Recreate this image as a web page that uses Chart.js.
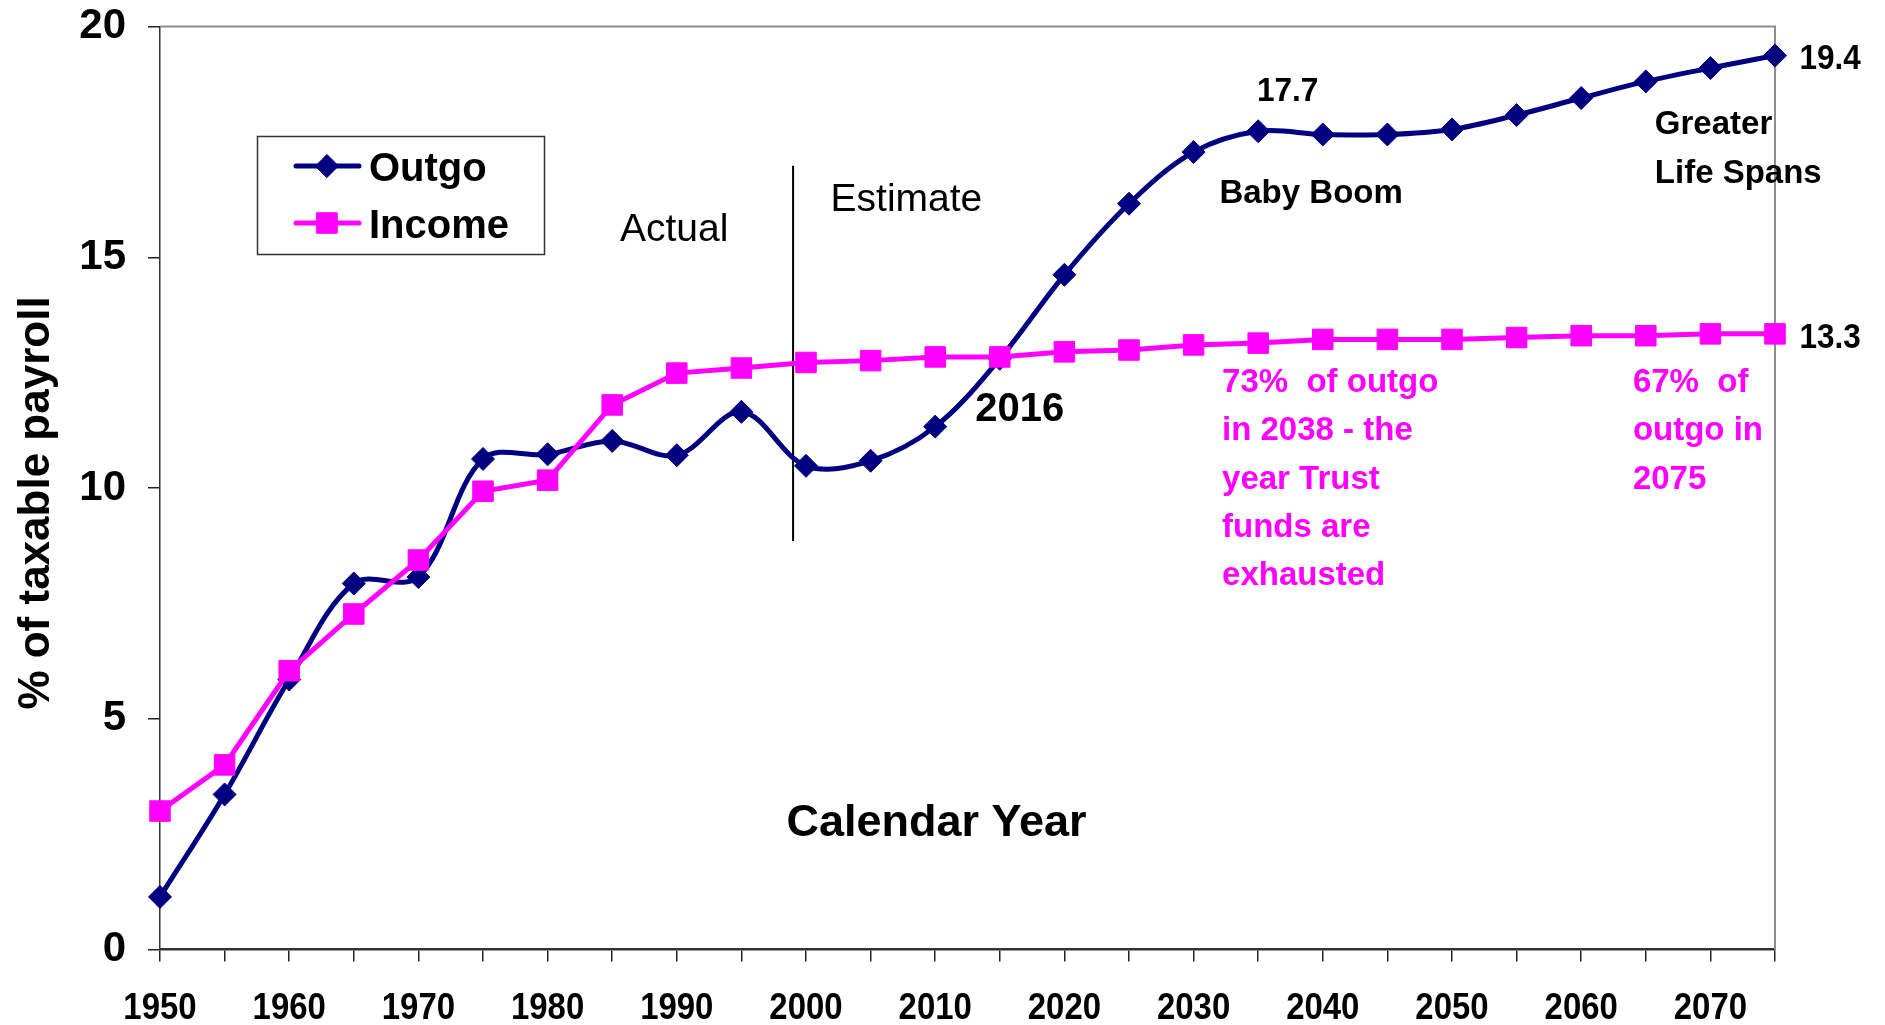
<!DOCTYPE html>
<html>
<head>
<meta charset="utf-8">
<script src="https://cdn.jsdelivr.net/npm/chart.js@4.4.0/dist/chart.umd.min.js"></script>
<style>
html,body{margin:0;padding:0;background:#fff;overflow:hidden}
#wrap{width:1885px;height:1025px}
</style>
</head>
<body>
<div id="wrap"><canvas id="c" width="1885" height="1025"></canvas></div>
<script>
// ---- data ----
const years  = [1950,1955,1960,1965,1970,1975,1980,1985,1990,1995,2000,2005,2010,2015,2020,2025,2030,2035,2040,2045,2050,2055,2060,2065,2070,2075];
const outgo  = [1.14,3.36,5.85,7.93,8.07,10.63,10.73,11.02,10.71,11.65,10.48,10.59,11.33,12.8,14.62,16.16,17.28,17.73,17.66,17.66,17.77,18.08,18.45,18.81,19.1,19.37];
const income = [3.0,4.0,6.04,7.27,8.44,9.93,10.17,11.8,12.49,12.6,12.72,12.76,12.84,12.84,12.95,12.99,13.1,13.14,13.22,13.22,13.22,13.26,13.3,13.3,13.34,13.34];
const seriesNames = ['Outgo','Income'];
const yTicks = [0,5,10,15,20];
const xLabelYears = [1950,1960,1970,1980,1990,2000,2010,2020,2030,2040,2050,2060,2070];
const dividerYear = 1999;
const sideTexts = {
  actual: 'Actual', estimate: 'Estimate', peak: '17.7', end1: '19.4', end2: '13.3',
  baby: 'Baby Boom', greater: ['Greater','Life Spans'], cross: '2016',
  note1: ['73%  of outgo','in 2038 - the','year Trust','funds are','exhausted'],
  note2: ['67%  of','outgo in','2075'],
  xTitle: 'Calendar Year', yTitle: '% of taxable payroll'
};

const NAVY = '#000080', MAG = '#FF00FF';
const SANS = '"Liberation Sans", Arial, sans-serif';

function narrowText(ctx, s, px, py, font, sx, align) {
  ctx.save();
  ctx.font = font;
  ctx.translate(px, py);
  ctx.scale(sx, 1);
  ctx.textAlign = align || 'left';
  ctx.fillText(s, 0, 0);
  ctx.restore();
}

const annot = {
  id: 'annot',
  beforeDatasetsDraw(chart) {
    const {ctx, chartArea: a, scales: {x, y}} = chart;
    ctx.save();
    ctx.strokeStyle = '#8c8c8c'; ctx.lineWidth = 2;
    ctx.beginPath(); ctx.moveTo(a.left, a.top); ctx.lineTo(a.right, a.top); ctx.lineTo(a.right, a.bottom); ctx.stroke();
    ctx.strokeStyle = '#000'; ctx.lineWidth = 2;
    const dx = x.getPixelForValue(dividerYear);
    ctx.beginPath(); ctx.moveTo(dx, y.getPixelForValue(16.98)); ctx.lineTo(dx, y.getPixelForValue(8.85)); ctx.stroke();
    ctx.restore();
  },
  afterDatasetsDraw(chart) {
    const {ctx, scales: {x, y}} = chart;
    const X = v => x.getPixelForValue(v), Y = v => y.getPixelForValue(v);
    ctx.save();
    ctx.textBaseline = 'alphabetic';
    ctx.textAlign = 'left';
    ctx.fillStyle = '#000';
    // x tick labels (condensed, as in the original)
    x.ticks.forEach(tk => {
      if (xLabelYears.includes(tk.value)) narrowText(ctx, String(tk.value), X(tk.value), y.bottom + 69, '700 37px ' + SANS, 0.89, 'center');
    });
    const t = (s, yr, v, font, color, dy) => { ctx.font = font; ctx.fillStyle = color || '#000'; ctx.fillText(s, X(yr), Y(v) + (dy || 0)); };
    t(sideTexts.actual, 1985.6, 15.35, '400 39px ' + SANS);
    t(sideTexts.estimate, 2001.9, 16.0, '400 39px ' + SANS);
    ctx.fillStyle = '#000';
    narrowText(ctx, sideTexts.peak, X(2034.9), Y(18.38), '700 34px ' + SANS, 0.93);
    narrowText(ctx, sideTexts.end1, X(2076.9), Y(19.08), '700 35px ' + SANS, 0.9);
    narrowText(ctx, sideTexts.end2, X(2076.9), Y(13.03), '700 35px ' + SANS, 0.9);
    t(sideTexts.baby, 2032.0, 16.18, '700 33px ' + SANS);
    sideTexts.greater.forEach((s, i) => t(s, 2065.7, 17.67, '700 33px ' + SANS, '#000', i * 49));
    t(sideTexts.cross, 2013.1, 11.45, '700 40px ' + SANS);
    sideTexts.note1.forEach((s, i) => t(s, 2032.2, 12.08, '700 33px ' + SANS, MAG, i * 48.3));
    sideTexts.note2.forEach((s, i) => t(s, 2064.0, 12.08, '700 33px ' + SANS, MAG, i * 48.3));
    ctx.textAlign = 'center';
    t(sideTexts.xTitle, 2010.1, 2.46, '700 45px ' + SANS);
    // y title
    ctx.save();
    ctx.translate(37, 503);
    ctx.rotate(-Math.PI / 2);
    ctx.font = '700 44px ' + SANS; ctx.fillStyle = '#000'; ctx.textBaseline = 'middle'; ctx.textAlign = 'center';
    ctx.fillText(sideTexts.yTitle, 0, 0);
    ctx.restore();
    // legend
    ctx.strokeStyle = '#333'; ctx.lineWidth = 1.5;
    ctx.strokeRect(257.5, 136.5, 287, 118);
    chart.data.datasets.forEach((ds, i) => {
      const cy = 166 + i * 57;
      ctx.strokeStyle = ds.borderColor; ctx.lineWidth = 5; ctx.lineCap = 'round';
      ctx.beginPath(); ctx.moveTo(296, cy); ctx.lineTo(359, cy); ctx.stroke();
      ctx.fillStyle = ds.pointBackgroundColor; ctx.strokeStyle = ds.pointBorderColor; ctx.lineWidth = 1;
      Chart.helpers.drawPoint(ctx, {pointStyle: ds.pointStyle, radius: ds.pointRadius, borderWidth: 1}, 327, cy);
      ctx.font = '700 40px ' + SANS; ctx.fillStyle = '#000'; ctx.textAlign = 'left';
      ctx.fillText(ds.label, 369, cy + 15);
    });
    ctx.restore();
  }
};

const ctx = document.getElementById('c').getContext('2d');
new Chart(ctx, {
  type: 'line',
  data: {
    datasets: [
      { label: seriesNames[0], data: years.map((yr, i) => ({x: yr, y: outgo[i]})),
        borderColor: NAVY, backgroundColor: NAVY, borderWidth: 5, tension: 0.35,
        pointStyle: 'rectRot', pointRadius: 11.5, pointBackgroundColor: NAVY, pointBorderColor: NAVY, pointBorderWidth: 1,
        clip: false, order: 1 },
      { label: seriesNames[1], data: years.map((yr, i) => ({x: yr, y: income[i]})),
        borderColor: MAG, backgroundColor: MAG, borderWidth: 5, tension: 0,
        pointStyle: 'rect', pointRadius: 14.5, pointBackgroundColor: MAG, pointBorderColor: MAG, pointBorderWidth: 1,
        clip: false, order: 0 }
    ]
  },
  options: {
    responsive: false, animation: false, devicePixelRatio: 1,
    layout: { padding: { left: 0, top: 26.5, right: 110, bottom: 0 } },
    plugins: { legend: { display: false }, tooltip: { enabled: false } },
    scales: {
      x: {
        type: 'linear', min: 1950, max: 2075,
        afterFit: s => { s.height = 75.5; s.paddingLeft = 0; s.paddingRight = 0; },
        ticks: { display: false, stepSize: 5, autoSkip: false, maxRotation: 0 },
        grid: { display: true, drawOnChartArea: false, drawTicks: true, tickLength: 12, color: '#222', lineWidth: 1.5 },
        border: { display: true, color: '#333', width: 2.5 }
      },
      y: {
        min: 0, max: 20,
        afterFit: s => { s.width = 160; s.paddingTop = 0; s.paddingBottom = 0; },
        afterBuildTicks: s => { s.ticks = yTicks.map(v => ({value: v})); },
        ticks: { padding: 22, color: '#000', font: { family: SANS, size: 42, weight: '700' } },
        grid: { display: true, drawOnChartArea: false, drawTicks: true, tickLength: 12, color: '#222', lineWidth: 1.5 },
        border: { display: true, color: '#333', width: 1.5 }
      }
    }
  },
  plugins: [annot]
});
</script>
</body>
</html>
